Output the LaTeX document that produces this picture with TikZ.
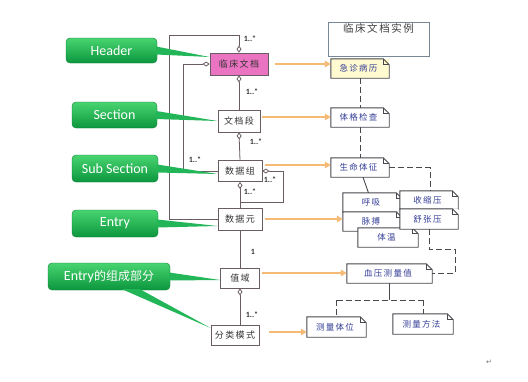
\documentclass[tikz,border=0pt]{standalone}
\usepackage{fontspec}
\setmainfont{Carlito}
\newfontfamily\cjk{Noto Sans CJK SC}
\newfontfamily\cjks[LetterSpace=15]{Noto Sans CJK SC}
\newfontfamily\dvs{DejaVu Sans}
\usetikzlibrary{arrows.meta,calc}
\definecolor{uml}{RGB}{105,92,98}
\definecolor{pinkf}{RGB}{234,116,194}
\definecolor{orng}{RGB}{244,186,118}
\definecolor{gtop}{RGB}{72,212,112}
\definecolor{gbot}{RGB}{12,150,62}
\definecolor{gwedge}{RGB}{34,182,88}
\definecolor{notetxt}{RGB}{52,62,150}
\definecolor{notebd}{RGB}{72,72,78}
\definecolor{yel}{RGB}{255,250,208}
\definecolor{instbd}{RGB}{120,135,150}
\tikzset{
  dtip/.tip={Diamond[open,length=7pt,width=5pt]},
  umlbox/.style={draw=uml,line width=0.8pt,fill=white,inner sep=0pt,text=black!80,
    font=\cjks\fontsize{9}{10}\selectfont},
  umlline/.style={draw=uml,line width=0.8pt},
  lbl/.style={inner sep=0pt,text=black!80,font=\bfseries\fontsize{8}{9}\selectfont},
  notebody/.style={inner sep=0pt,text=notetxt,font=\cjks\fontsize{8.5}{9}\selectfont},
  orarrow/.style={draw=orng,line width=1.6pt,-{Triangle[length=6pt,width=6.5pt]}},
  dsh/.style={draw=notebd,line width=0.9pt,dash pattern=on 6pt off 3pt},
  callout/.style={rounded corners=4pt,top color=gtop,bottom color=gbot,draw=gbot!85!black,
    line width=0.4pt,text=white,inner sep=0pt,font=\fontsize{14}{16}\selectfont},
}
\newcommand\mknote[6]{%
  \node[notebody,minimum width=#3,minimum height=#4,fill=#6] (#1) at #2 {#5\hspace*{3pt}};
  \draw[notebd,line width=0.9pt] (#1.north west) -- ([xshift=-6pt]#1.north east)
     -- ([yshift=-6pt]#1.north east) -- (#1.south east) -- (#1.south west) -- cycle;
  \draw[notebd,line width=0.7pt] ([xshift=-6pt]#1.north east)
     -- ([xshift=-6pt,yshift=-6pt]#1.north east) -- ([yshift=-6pt]#1.north east);
}
\begin{document}
\begin{tikzpicture}[x=1pt,y=-1pt]
\useasboundingbox[fill=white] (0,0) rectangle (528,381);

% ---------- UML boxes ----------
\node[umlbox,fill=pinkf,minimum width=58pt,minimum height=22pt] (doc) at (239,64) {临床文档};
\node[umlbox,minimum width=42pt,minimum height=22pt] (sec) at (239,121) {文档段};
\node[umlbox,minimum width=44pt,minimum height=21pt] (grp) at (240,171) {数据组};
\node[umlbox,minimum width=44pt,minimum height=22pt] (ent) at (240,219) {数据元};
\node[umlbox,minimum width=39pt,minimum height=20pt] (val) at (240,278) {值域};
\node[umlbox,minimum width=48pt,minimum height=20pt] (cls) at (235,335) {分类模式};

% ---------- UML connectors ----------
\coordinate (ol) at (169,35);
\draw[umlline,-{dtip}] (ent.west) -| (ol) -| (doc.north);
\coordinate (il) at (183,64);
\draw[umlline,-{dtip}] (grp.west) -| (il) -- (doc.west);
\draw[umlline,{dtip}-] (doc.south) -- (sec.north);
\draw[umlline,{dtip}-] (sec.south) -- (grp.north);
\draw[umlline,{dtip}-] (grp.south) -- (ent.north);
\coordinate (sl) at (283,202);
\draw[umlline,{dtip}-] (grp.east) -| (sl) -- (sl -| grp.south);
\draw[umlline] (ent.south) -- (val.north);
\draw[umlline,{dtip}-] (val.south) -- (val.south |- cls.north);

\node[lbl] (l1) at (250,39) {1..*};
\node[lbl] (l2) at (252,92) {1..*};
\node[lbl] (l3) at (256,142) {1..*};
\node[lbl] (l4) at (195,160) {1..*};
\node[lbl] (l5) at (270,180) {1..*};
\node[lbl] (l6) at (250,192) {1..*};
\node[lbl] (l7) at (253,252) {1};
\node[lbl] (l8) at (252,315) {1..*};

% ---------- right side notes ----------
\node[draw=instbd,line width=0.7pt,fill=white,minimum width=101pt,minimum height=34pt,inner sep=0pt] (inst) at (378.5,39) {};
\node[anchor=north,inner sep=0pt,text=black!75,font=\cjks\fontsize{10.5}{12}\selectfont] (instt) at ([yshift=-2pt]inst.north) {临床文档实例};

\draw[dsh] (360,78) -- (360,108);
\draw[dsh] (360,127) -- (360,158);

\mknote{n1}{(360,68.5)}{58pt}{19pt}{急诊病历}{yel}
\mknote{n2}{(360,117.5)}{58pt}{19pt}{体格检查}{white}
\mknote{n3}{(360,167.5)}{58pt}{19pt}{生命体征}{white}

\draw[dsh] (n3.east) -| (430,191);
\draw[notebd,line width=0.9pt] ([xshift=3pt]n3.south) -- (368.5,193);

\mknote{n4}{(372.5,202.5)}{59pt}{19pt}{呼吸}{white}
\mknote{n5}{(372.5,221.5)}{59pt}{19pt}{脉搏}{white}
\mknote{n6}{(388,237.5)}{60pt}{19pt}{体温}{white}
\mknote{n7}{(429,200)}{58pt}{18pt}{收缩压}{white}
\mknote{n8}{(429,219)}{58pt}{20pt}{舒张压}{white}
\mknote{n9}{(389.5,273.5)}{85pt}{19pt}{血压测量值}{white}
\mknote{n10}{(336.5,327)}{59pt}{20pt}{测量体位}{white}
\mknote{n11}{(423,324)}{60pt}{20pt}{测量方法}{white}

\coordinate (d1) at (455,249);
\draw[dsh] (n8.south) |- (d1) |- (n9.east);
\coordinate (br) at (389,300);
\draw[notebd,line width=0.9pt] (n9.south) -- (n9.south |- br);
\draw[dsh] (n10.north |- br) -- (n11.north |- br);
\draw[dsh] (n10.north |- br) -- (n10.north);
\draw[dsh] (n11.north |- br) -- (n11.north);

% ---------- orange arrows ----------
\coordinate (a1) at ([xshift=7pt]doc.east);
\draw[orarrow] (a1) -- (a1 -| n1.west);
\coordinate (a2) at ([xshift=2pt,yshift=4pt]sec.east);
\draw[orarrow] (a2) -- (a2 -| n2.west);
\coordinate (a3) at ([xshift=3pt,yshift=6pt]grp.east);
\draw[orarrow] (a3) -- (a3 -| n3.west);
\coordinate (a4) at ([xshift=3pt]ent.east);
\draw[orarrow] (a4) -- (a4 -| n5.west);
\coordinate (a5) at ([xshift=2pt,yshift=5pt]val.east);
\draw[orarrow] (a5) -- (a5 -| n9.west);
\coordinate (a6) at ([xshift=10pt,yshift=3pt]cls.east);
\draw[orarrow] (a6) -- (a6 -| n10.west);

% ---------- green callouts ----------
\node[callout,minimum width=91pt,minimum height=25pt] (hdr) at (111.5,50.5) {Header};
\node[callout,minimum width=85pt,minimum height=26pt] (secC) at (114.5,115) {Section};
\node[callout,minimum width=86pt,minimum height=27pt] (subC) at (115,168.5) {Sub Section};
\node[callout,minimum width=86pt,minimum height=27pt] (entC) at (115,223.5) {Entry};
\node[callout,minimum width=122pt,minimum height=27pt] (ecC) at (109,276.5) {Entry{\cjk\fontsize{12}{14}\selectfont 的组成部分}};

\fill[gwedge] ($(hdr.east)+(-1pt,4pt)$) -- ([yshift=7pt]doc.west) -- ($(hdr.east)+(-1pt,-4pt)$) -- cycle;
\fill[gwedge] ($(secC.east)+(-1pt,4pt)$) -- (sec.west) -- ($(secC.east)+(-1pt,-4pt)$) -- cycle;
\fill[gwedge] ($(subC.east)+(-1pt,4pt)$) -- ([yshift=-3pt]grp.west) -- ($(subC.east)+(-1pt,-4pt)$) -- cycle;
\fill[gwedge] ($(entC.east)+(-1pt,4pt)$) -- ([yshift=-7pt]ent.west) -- ($(entC.east)+(-1pt,-4pt)$) -- cycle;
\fill[gwedge] ($(ecC.east)+(-1pt,4pt)$) -- ([yshift=-2pt]val.west) -- ($(ecC.east)+(-1pt,-4pt)$) -- cycle;
\fill[gwedge] ($(ecC.south)+(13pt,1pt)$) -- ([yshift=7pt]cls.west) -- ($(ecC.south)+(31pt,1pt)$) -- cycle;

\node[inner sep=0pt,text=black!55,font=\dvs\fontsize{7}{8}\selectfont] (ret) at (489,362) {↵};
\end{tikzpicture}
\end{document}
